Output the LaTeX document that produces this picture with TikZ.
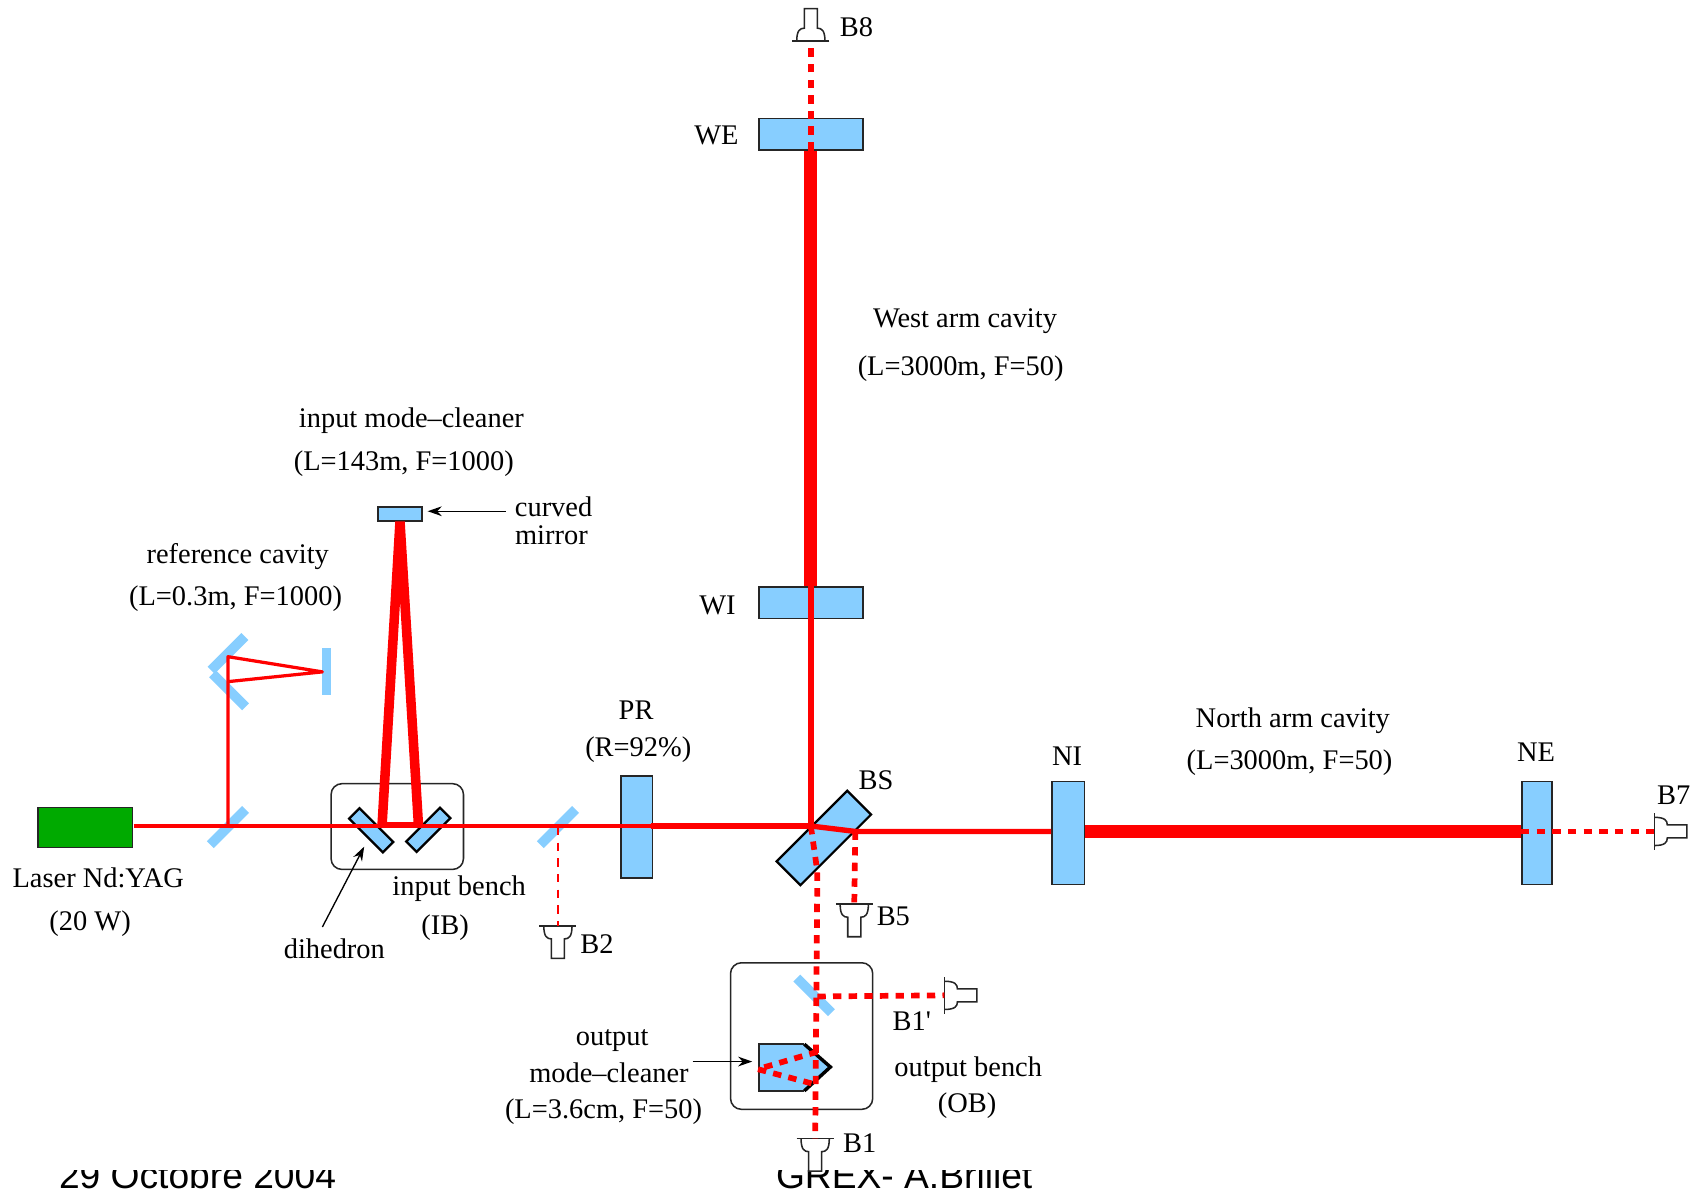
\documentclass[tikz,border=0pt]{standalone}
\usepackage{fontspec}
\setmainfont{Liberation Serif}
\newfontfamily\footerfont{Liberation Sans}
\newfontfamily\straightfont{Liberation Serif}
\usepackage{xcolor}
\usetikzlibrary{arrows.meta, positioning}
\definecolor{mirrorblue}{RGB}{135, 206, 255}
\definecolor{lasergreen}{RGB}{0, 170, 0}
\tikzset{
    lbl/.style={inner sep=0pt, font=\fontsize{7.45pt}{9pt}\selectfont},
    optic/.style={rectangle, draw=black!85, line width=0.4pt, fill=mirrorblue, inner sep=0pt},
    bare/.style={rectangle, fill=mirrorblue, inner sep=0pt},
    benchbox/.style={rectangle, draw=black!85, line width=0.4pt, rounded corners=1mm, inner sep=0pt},
    beamthin/.style={draw=red, line width=0.85pt, line join=round},
    beammid/.style={draw=red, line width=1.4pt},
    beamwide/.style={draw=red, line width=2.5pt, line join=bevel},
    beamfat/.style={draw=red, line width=3.4pt},
    beamdash/.style={draw=red, line width=1.5pt, dash pattern=on 2.2pt off 1.9pt},
    beamfaint/.style={draw=red, line width=0.7pt, dash pattern=on 2.2pt off 1.9pt},
    pointer/.style={draw=black, line width=0.35pt, -{Stealth[length=1.3mm, width=0.9mm]}},
    detector/.pic={
        \draw[black!85, line width=0.4pt, fill=white] (-.13,0) .. controls (-.13,-.10) and (-.10,-.12) .. (-.06,-.12) -- (-.06,-.30) -- (.06,-.30) -- (.06,-.12) .. controls (.10,-.12) and (.13,-.10) .. (.13,0);
        \draw[black!85, line width=0.4pt] (-.17,0) -- (.17,0);
        \coordinate (-in) at (0,0);
    }
}
\begin{document}
\begin{tikzpicture}
    \useasboundingbox (0,0) rectangle (15.68,10.98);

    % --- FOOTER, cut by the white of the figure ---
    \node[inner sep=0pt, anchor=base, font=\footerfont\fontsize{9.75pt}{11pt}\selectfont] (footdate) at (1.82, 0.035) {29 Octobre 2004};
    \node[inner sep=0pt, anchor=base, font=\footerfont\fontsize{9.75pt}{11pt}\selectfont] (footname) at (8.33, 0.035) {GREX- A.Brillet};
    \fill[white] (0, 0.20) rectangle (15.68, 1.2);

    % --- OPTICS ---
    \node[rectangle, draw=black!85, fill=lasergreen, line width=0.4pt, minimum width=0.87cm, minimum height=0.37cm] (laser) at (0.785, 3.355) {};
    \node[optic, minimum width=0.96cm, minimum height=0.29cm] (WE) at (7.47, 9.745) {};
    \node[optic, minimum width=0.96cm, minimum height=0.29cm] (WI) at (7.47, 5.425) {};
    \node[optic, minimum width=0.29cm, minimum height=0.94cm] (PR) at (5.865, 3.36) {};
    \node[optic, minimum width=0.30cm, minimum height=0.95cm] (NI) at (9.84, 3.305) {};
    \node[optic, minimum width=0.28cm, minimum height=0.95cm] (NE) at (14.16, 3.305) {};
    \node[optic, minimum width=0.92cm, minimum height=0.31cm, rotate=45, line width=0.6pt, draw=black] (BS) at (7.59, 3.26) {};
    \node[optic, minimum width=0.41cm, minimum height=0.13cm] (curvedmirror) at (3.685, 6.245) {};

    % reference cavity and pick-offs
    \node[bare, minimum width=0.08cm, minimum height=0.43cm] (refback) at (3.01, 4.795) {};
    \node[bare, minimum width=0.44cm, minimum height=0.09cm, rotate=45] (refupper) at (2.10, 4.96) {};
    \node[bare, minimum width=0.43cm, minimum height=0.09cm, rotate=-45] (reflower) at (2.11, 4.62) {};
    \node[bare, minimum width=0.46cm, minimum height=0.09cm, rotate=45] (pickref) at (2.10, 3.36) {};
    \node[bare, minimum width=0.46cm, minimum height=0.09cm, rotate=45] (pickB2) at (5.14, 3.36) {};
    \node[bare, minimum width=0.45cm, minimum height=0.09cm, rotate=-45] (pickout) at (7.50, 1.81) {};

    % benches
    \node[benchbox, minimum width=1.22cm, minimum height=0.79cm] (inputbench) at (3.66, 3.365) {};
    \node[benchbox, minimum width=1.31cm, minimum height=1.35cm] (outputbench) at (7.385, 1.435) {};
    \node[optic, minimum width=0.44cm, minimum height=0.135cm, rotate=-45, line width=0.6pt, draw=black] (dihleft) at (3.42, 3.33) {};
    \node[optic, minimum width=0.44cm, minimum height=0.135cm, rotate=45, line width=0.6pt, draw=black] (dihright) at (3.945, 3.335) {};

    % output mode-cleaner
    \fill[mirrorblue] (6.99, 1.36) -- (7.41, 1.36) -- (7.65, 1.15) -- (7.41, 0.93) -- (6.99, 0.93) -- cycle;
    \draw[black!85, line width=0.4pt] (7.41, 1.36) -- (6.99, 1.36) -- (6.99, 0.93) -- (7.41, 0.93);
    \draw[black, line width=0.9pt] (7.41, 1.36) -- (7.65, 1.15) -- (7.41, 0.93);

    % --- DETECTORS ---
    \pic (detB2) at (5.14, 2.45) {detector};
    \pic (detB5) at (7.87, 2.65) {detector};
    \pic (detB1) at (7.51, 0.49) {detector};
    \pic[rotate=180] (detB8) at (7.47, 10.60) {detector};
    \pic[rotate=90] (detBo) at (8.70, 1.81) {detector};
    \pic[rotate=90] (detB7) at (15.24, 3.32) {detector};

    % --- BEAMS ---
    \coordinate (laserout) at (1.23, 3.37);
    \coordinate (prout) at (6.00, 3.37);
    \coordinate (bsfront) at (7.47, 3.37);
    \coordinate (bsback) at (7.88, 3.32);
    \coordinate (bslow) at (7.53, 2.95);
    \coordinate (refkink) at (2.10, 4.93);
    \coordinate (reflow) at (2.10, 4.70);
    \coordinate (refwaist) at (2.97, 4.79);
    \coordinate (imcleft) at (3.52, 3.38);
    \coordinate (imcright) at (3.855, 3.38);
    \coordinate (omcfold) at (7.53, 1.80);
    \coordinate (omcfar) at (6.98, 1.13);
    \coordinate (omcup) at (7.53, 1.29);
    \coordinate (omcdown) at (7.51, 0.99);

    \draw[beamthin] (laserout) -- (prout);
    \draw[beammid] (prout) -- (bsfront);
    \draw[beammid] (bsfront) -- (WI.north);
    \draw[beamfat] (WI.north) -- (WE.south);
    \draw[beamdash] (WE.south) -- (detB8-in);
    \draw[beammid] (bsfront) -- (bsback) -- (NI.west |- bsback);
    \draw[beamfat] (NI.east |- bsback) -- (NE.west |- bsback);
    \draw[beamdash] (NE.west |- bsback) -- (detB7-in);
    \draw[beamdash] (bsback) -- (detB5-in);
    \draw[beamdash] (bsfront) -- (bslow) -- (detB1-in);
    \draw[beamdash] (omcfold) -- (detBo-in);
    \draw[beamdash] (omcup) -- (omcfar) -- (omcdown);
    \draw[beamfaint] (pickB2.center) -- (detB2-in);

    % input mode-cleaner and reference cavity
    \draw[beamwide] (imcleft) -- (curvedmirror.south) -- (imcright);
    \draw[beammid] (imcleft) -- (imcright);
    \draw[beamthin] (pickref.center) -- (refkink) -- (refwaist) -- (reflow);

    % --- POINTERS ---
    \coordinate (curvedtail) at (4.66, 6.27);
    \coordinate (curvedtip) at (3.94, 6.27);
    \coordinate (dihedrontail) at (2.97, 2.44);
    \coordinate (dihedrontip) at (3.355, 3.18);
    \coordinate (cleanertail) at (6.38, 1.20);
    \coordinate (cleanertip) at (6.93, 1.20);
    \draw[pointer] (curvedtail) -- (curvedtip);
    \draw[pointer] (dihedrontail) -- (dihedrontip);
    \draw[pointer] (cleanertail) -- (cleanertip);

    % --- LABELS ---
    \node[lbl] (lblB8) at (7.89, 10.73) {B8};
    \node[lbl] (lblWE) at (6.60, 9.73) {WE};
    \node[lbl] (lblwest) at (8.89, 8.02) {West arm cavity};
    \node[lbl] (lblwestpar) at (8.85, 7.58) {(L=3000m, F=50)};
    \node[lbl] (lblimc) at (3.79, 7.10) {input mode--cleaner};
    \node[lbl] (lblimcpar) at (3.72, 6.71) {(L=143m, F=1000)};
    \node[lbl] (lblcurved) at (5.10, 6.31) {curved};
    \node[lbl] (lblmirror) at (5.08, 6.05) {mirror};
    \node[lbl] (lblref) at (2.19, 5.85) {reference cavity};
    \node[lbl] (lblrefpar) at (2.17, 5.46) {(L=0.3m, F=1000)};
    \node[lbl] (lblWI) at (6.61, 5.40) {WI};
    \node[lbl] (lblPR) at (5.86, 4.44) {PR};
    \node[lbl] (lblPRpar) at (5.88, 4.07) {(R=92\%)};
    \node[lbl] (lblBS) at (8.07, 3.79) {BS};
    \node[lbl] (lblNI) at (9.83, 4.01) {NI};
    \node[lbl] (lblnorth) at (11.91, 4.34) {North arm cavity};
    \node[lbl] (lblnorthpar) at (11.88, 3.95) {(L=3000m, F=50)};
    \node[lbl] (lblNE) at (14.15, 4.05) {NE};
    \node[lbl] (lblB7) at (15.42, 3.65) {B7};
    \node[lbl] (lbllaser) at (0.905, 2.89) {Laser Nd:YAG};
    \node[lbl] (lblwatt) at (0.83, 2.47) {(20 W)};
    \node[lbl] (lblinput) at (4.23, 2.79) {input bench};
    \node[lbl] (lblIB) at (4.10, 2.43) {(IB)};
    \node[lbl] (lbldihedron) at (3.08, 2.24) {dihedron};
    \node[lbl] (lblB2) at (5.50, 2.28) {B2};
    \node[lbl] (lblB5) at (8.23, 2.54) {B5};
    \node[lbl] (lblBo) at (8.40, 1.57) {\straightfont B1'};
    \node[lbl] (lblout) at (5.64, 1.39) {output};
    \node[lbl] (lblclean) at (5.61, 1.10) {mode--cleaner};
    \node[lbl] (lblcleanpar) at (5.56, 0.74) {(L=3.6cm, F=50)};
    \node[lbl] (lbloutput) at (8.92, 1.13) {output bench};
    \node[lbl] (lblOB) at (8.91, 0.79) {(OB)};
    \node[lbl] (lblB1) at (7.92, 0.45) {B1};
\end{tikzpicture}
\end{document}
